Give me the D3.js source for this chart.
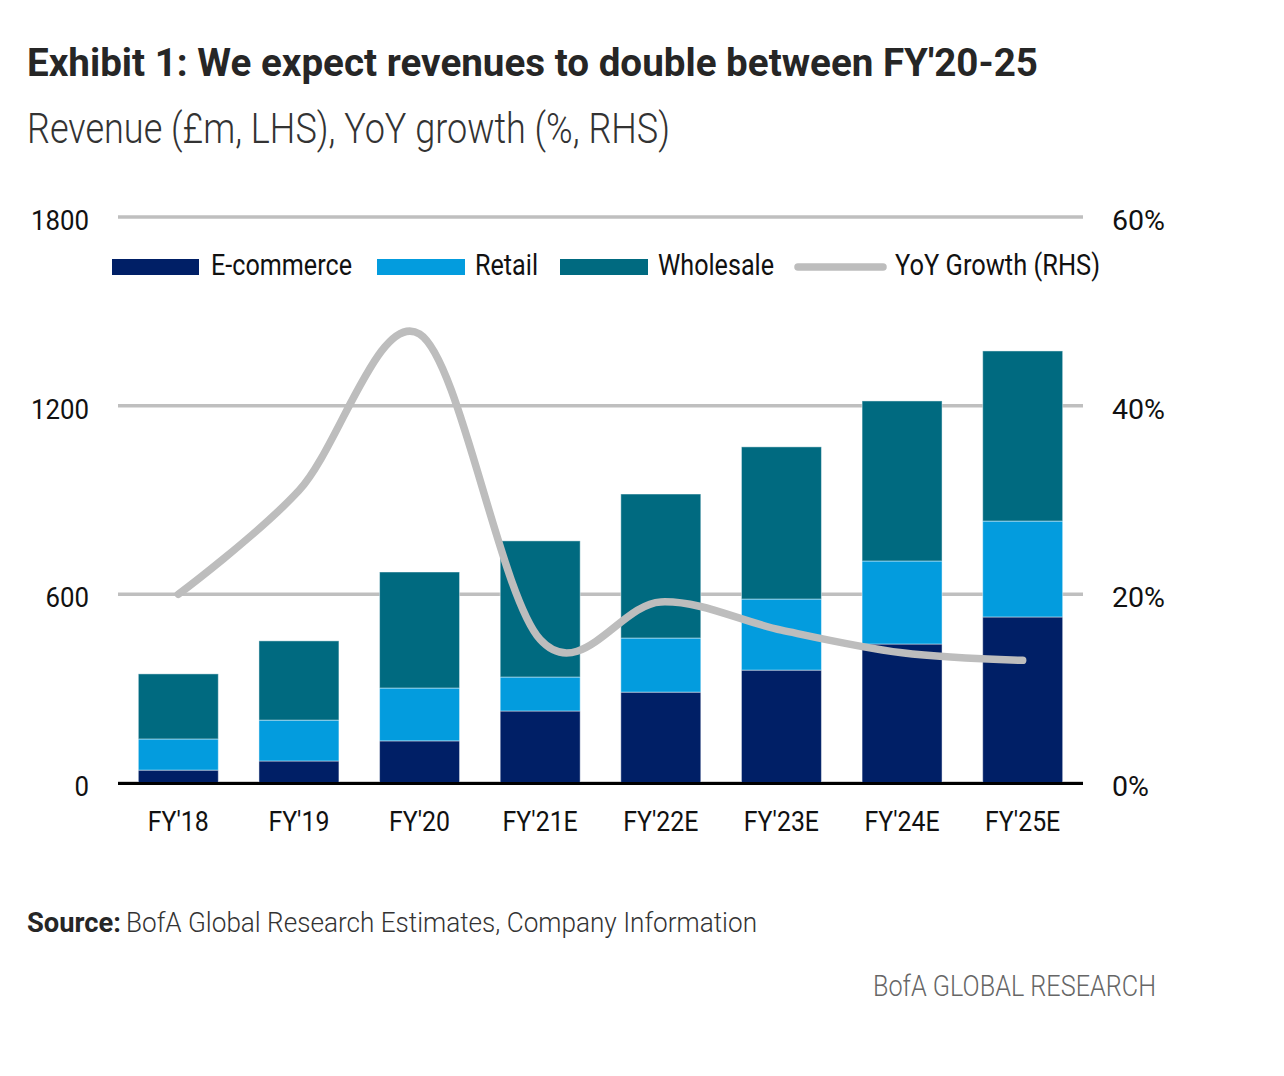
<!DOCTYPE html>
<html>
<head>
<meta charset="utf-8">
<script src="https://cdn.jsdelivr.net/npm/d3@7/dist/d3.min.js"></script>
<style>
  html, body { margin: 0; padding: 0; background: #ffffff; }
  svg { display: block; font-family: Roboto, "Noto Sans", sans-serif; }
</style>
</head>
<body>
<svg id="chart" width="1284" height="1076"></svg>
<script>
// ---- Data ----
const categories = ["FY'18", "FY'19", "FY'20", "FY'21E", "FY'22E", "FY'23E", "FY'24E", "FY'25E"];
const ecommerce  = [41, 70, 134, 229, 289, 359, 442, 528];
const retail     = [99, 130, 168, 108, 172, 226, 264, 305];
const wholesale  = [207, 252, 369, 433, 458, 484, 509, 541];
const yoyGrowth  = [20.0, 31.0, 47.6, 15.2, 19.2, 16.2, 13.8, 13.0];
const leftTicks  = [0, 600, 1200, 1800];
const rightTicks = [0, 20, 40, 60];
const seriesNames = ["E-commerce", "Retail", "Wholesale"];
const lineName = "YoY Growth (RHS)";
const title = "Exhibit 1: We expect revenues to double between FY'20-25";
const subtitle = "Revenue (£m, LHS), YoY growth (%, RHS)";
const sourceLabel = "Source:";
const sourceText = "BofA Global Research Estimates, Company Information";
const footer = "BofA GLOBAL RESEARCH";

const colors = ["#001F66", "#039CDE", "#006A80"];
const lineColor = "#BDBDBD";

const svg = d3.select("#chart");

function fit(sel, w) {
  sel.attr("textLength", w).attr("lengthAdjust", "spacingAndGlyphs");
  return sel;
}

// ---- Titles ----
fit(svg.append("text").attr("x", 27).attr("y", 76)
  .attr("font-size", 39).attr("font-weight", 700).attr("fill", "#262626")
  .text(title), 1011);
fit(svg.append("text").attr("x", 27).attr("y", 143)
  .attr("font-size", 42).attr("font-weight", 300).attr("fill", "#333333")
  .text(subtitle), 643);

// ---- Scales ----
const x = d3.scaleBand().domain(categories).range([118, 1083]).paddingInner(0.337).paddingOuter(0.1685);
const y = d3.scaleLinear().domain([0, 1800]).range([783, 217]);
const y2 = d3.scaleLinear().domain([0, 60]).range([783, 217]);

// ---- Gridlines ----
svg.append("g").selectAll("line").data(leftTicks).join("line")
  .attr("x1", 118).attr("x2", 1083)
  .attr("y1", d => y(d)).attr("y2", d => y(d))
  .attr("stroke", "#BFBFBF").attr("stroke-width", 3.5);

// ---- Stacked bars ----
const rows = categories.map((c, i) => ({ cat: c, "E-commerce": ecommerce[i], "Retail": retail[i], "Wholesale": wholesale[i] }));
const stack = d3.stack().keys(seriesNames)(rows);
svg.append("g").selectAll("g").data(stack).join("g")
  .attr("fill", (d, i) => colors[i])
  .selectAll("rect").data(d => d).join("rect")
  .attr("x", d => x(d.data.cat))
  .attr("width", x.bandwidth())
  .attr("y", d => y(d[1]))
  .attr("height", d => y(d[0]) - y(d[1]))
  .attr("stroke", "rgba(255,255,255,0.45)").attr("stroke-width", 1);

// ---- Zero axis line ----
svg.append("line").attr("x1", 118).attr("x2", 1083)
  .attr("y1", y(0) + 0.5).attr("y2", y(0) + 0.5)
  .attr("stroke", "#000000").attr("stroke-width", 3);

// ---- Growth line ----
const line = d3.line()
  .x((d, i) => x(categories[i]) + x.bandwidth() / 2)
  .y(d => y2(d))
  .curve(d3.curveCardinal.tension(0));
svg.append("path").datum(yoyGrowth)
  .attr("d", line).attr("fill", "none")
  .attr("stroke", lineColor).attr("stroke-width", 7.5)
  .attr("stroke-linecap", "round").attr("stroke-linejoin", "round");

// ---- Axes labels ----
const tickSize = 28;
const leftG = svg.append("g").attr("font-size", tickSize).attr("fill", "#111");
const lt = leftG.selectAll("text").data(leftTicks).join("text")
  .attr("x", 89).attr("y", d => y(d)).attr("dy", "0.46em")
  .attr("text-anchor", "end").text(d => d3.format("d")(d));
// squeeze ratio from "1800" measured width (58px)
let ratio = 1;
lt.each(function(d) { if (d === 1800) ratio = 58 / this.getComputedTextLength(); });
ratio = Math.min(ratio, 1.05);
lt.each(function() { d3.select(this).call(fit, this.getComputedTextLength() * ratio); });

const rt = svg.append("g").attr("font-size", tickSize).attr("fill", "#111")
  .selectAll("text").data(rightTicks).join("text")
  .attr("x", 1112).attr("y", d => y2(d)).attr("dy", "0.46em")
  .text(d => d + "%");
let ratio2 = 1;
rt.each(function(d) { if (d === 60) ratio2 = 53 / this.getComputedTextLength(); });
rt.each(function() { d3.select(this).call(fit, this.getComputedTextLength() * ratio2); });

const xt = svg.append("g").attr("font-size", 27).attr("fill", "#111")
  .selectAll("text").data(categories).join("text")
  .attr("x", d => x(d) + x.bandwidth() / 2).attr("y", 831)
  .attr("text-anchor", "middle").text(d => d);
xt.each(function() { d3.select(this).call(fit, this.getComputedTextLength() * ratio); });

// ---- Legend ----
const legendSw = [[112, 199], [377, 465], [560, 648]];
const legendTx = [[211, 141], [475, 63], [658, 116]];
seriesNames.forEach((n, i) => {
  svg.append("rect").attr("x", legendSw[i][0]).attr("y", 259)
    .attr("width", legendSw[i][1] - legendSw[i][0]).attr("height", 16).attr("fill", colors[i]);
  fit(svg.append("text").attr("x", legendTx[i][0]).attr("y", 275)
    .attr("font-size", 30).attr("fill", "#111").text(n), legendTx[i][1]);
});
svg.append("line").attr("x1", 798).attr("x2", 883).attr("y1", 267).attr("y2", 267)
  .attr("stroke", lineColor).attr("stroke-width", 7.5).attr("stroke-linecap", "round");
fit(svg.append("text").attr("x", 895).attr("y", 275)
  .attr("font-size", 30).attr("fill", "#111").text(lineName), 205);

// ---- Source & footer ----
fit(svg.append("text").attr("x", 27).attr("y", 932)
  .attr("font-size", 28).attr("font-weight", 700).attr("fill", "#262626")
  .text(sourceLabel), 94);
fit(svg.append("text").attr("x", 126).attr("y", 932)
  .attr("font-size", 28).attr("font-weight", 300).attr("fill", "#333333")
  .text(sourceText), 631);
fit(svg.append("text").attr("x", 873).attr("y", 996)
  .attr("font-size", 29).attr("font-weight", 300).attr("fill", "#666666")
  .text(footer), 283);
</script>
</body>
</html>
